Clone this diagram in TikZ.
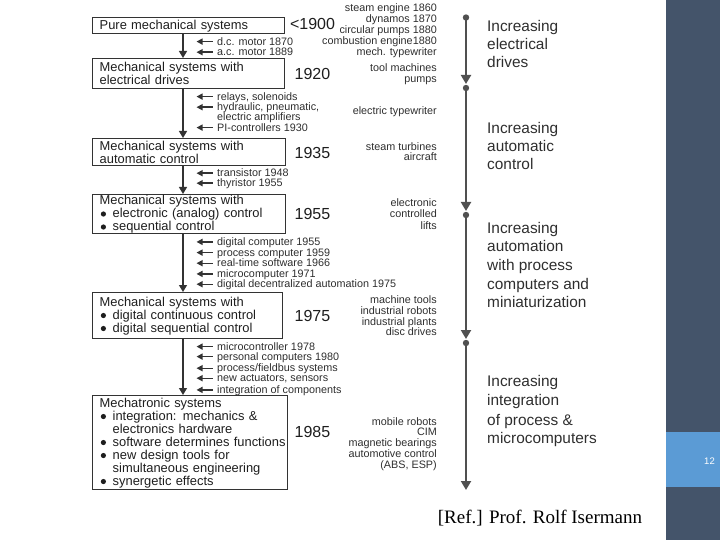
\documentclass[tikz,border=0pt]{standalone}
\usepackage{fontspec}
\setmainfont{Liberation Sans}
\newfontfamily\reffont{Liberation Serif}
\usetikzlibrary{arrows.meta}
\definecolor{ink}{HTML}{1E1E1E}
\definecolor{grayink}{HTML}{2E2E2E}
\definecolor{linec}{HTML}{333333}
\definecolor{tlc}{HTML}{505050}
\definecolor{panel}{HTML}{44546A}
\definecolor{pblue}{HTML}{5B9BD5}
\newcommand\bul{\makebox[13pt][l]{\hspace{1.1pt}\tikz[baseline=-3.5pt]\fill[ink] (0,0) circle (2.6pt);}}
\newcommand\ind{\hspace*{13pt}}
\begin{document}
\begin{tikzpicture}[x=1pt,y=-1pt,
  box/.style={draw=linec, line width=1.4pt, rectangle, anchor=north west,
    inner xsep=7.5pt, inner ysep=0pt, align=left, text=ink,
    font=\fontsize{12.9}{13}\selectfont},
  year/.style={anchor=center, inner sep=0pt, text=ink, font=\fontsize{16}{18}\selectfont},
  lt/.style={anchor=base west, inner sep=0pt, text=grayink, font=\fontsize{10.8}{11}\selectfont},
  rt/.style={anchor=base east, inner sep=0pt, text=grayink, font=\fontsize{10.8}{11}\selectfont},
  big/.style={anchor=base west, inner sep=0pt, text=grayink, font=\fontsize{15.4}{18}\selectfont},
  marr/.style={draw=linec, line width=1.4pt, -{Triangle[length=7pt,width=8pt]}},
  sarr/.style={draw=linec, line width=1.4pt, -{Triangle[length=6pt,width=6pt]}},
  tarr/.style={draw=tlc, line width=2pt, -{Triangle[length=9pt,width=10pt]}},
  tdot/.style={fill=tlc}
]
\useasboundingbox (0,0) rectangle (720,540);
% right panel
\fill[panel] (666,0) rectangle (720,540);
\fill[pblue] (666,432) rectangle (720,487);
\node[text=white, inner sep=0pt, font=\fontsize{9.5}{10}\selectfont] (pg) at (709.5,461.5) {12};

% boxes
\node[box, minimum width=192.5pt, minimum height=16pt, text width=177.5pt] (b1) at (91.5,17) {Pure mechanical systems};
\node[box, minimum width=192.5pt, minimum height=30pt, text width=177.5pt] (b2) at (91.5,58) {Mechanical systems with\\electrical drives};
\node[box, minimum width=193.5pt, minimum height=27pt, text width=178.5pt] (b3) at (91.5,138) {Mechanical systems with\\automatic control};
\node[box, minimum width=193.5pt, minimum height=39pt, text width=178.5pt] (b4) at (91.5,194) {Mechanical systems with\\\bul electronic (analog) control\\\bul sequential control};
\node[box, minimum width=190.5pt, minimum height=46pt, text width=175.5pt] (b5) at (91.5,292) {Mechanical systems with\\\bul digital continuous control\\\bul digital sequential control};
\node[box, minimum width=195.5pt, minimum height=94pt, text width=180.5pt] (b6) at (91.5,395) {Mechatronic systems\\\bul integration: mechanics \&\\\ind electronics hardware\\\mbox{\bul software determines functions}\\\bul new design tools for\\\ind simultaneous engineering\\\bul synergetic effects};

% main arrows
\coordinate (ax) at (183,0);
\draw[marr] (b1.south -| ax) -- (b2.north -| ax);
\draw[marr] (b2.south -| ax) -- (b3.north -| ax);
\draw[marr] (b3.south -| ax) -- (b4.north -| ax);
\draw[marr] (b4.south -| ax) -- (b5.north -| ax);
\draw[marr] (b5.south -| ax) -- (b6.north -| ax);

% years
\node[year] (y1) at (312.5,24) {<1900};
\node[year] (y2) at (312.5,74) {1920};
\node[year] (y3) at (312.5,152.5) {1935};
\node[year] (y4) at (312.5,214) {1955};
\node[year] (y5) at (312.5,316) {1975};
\node[year] (y6) at (312.5,432) {1985};

% side items (inputs)
\node[lt] (s1) at (217,45.2) {d.c. motor 1870};
\node[lt] (s2) at (217,55.8) {a.c. motor 1889};
\node[lt] (s3) at (217,100.2) {relays, solenoids};
\node[lt] (s4) at (217,110.8) {hydraulic, pneumatic,};
\node[lt] (s4b) at (217,120.8) {electric amplifiers};
\node[lt] (s5) at (217,131.2) {PI-controllers 1930};
\node[lt] (s6) at (217,176.8) {transistor 1948};
\node[lt] (s7) at (217,186.8) {thyristor 1955};
\node[lt] (s8) at (217,245.5) {digital computer 1955};
\node[lt] (s9) at (217,256.2) {process computer 1959};
\node[lt] (s10) at (217,266.8) {real-time software 1966};
\node[lt] (s11) at (217,277.5) {microcomputer 1971};
\node[lt] (s12) at (217,287.8) {digital decentralized automation 1975};
\node[lt] (s13) at (217,350.2) {microcontroller 1978};
\node[lt] (s14) at (217,360.2) {personal computers 1980};
\node[lt] (s15) at (217,371.8) {process/fieldbus systems};
\node[lt] (s16) at (217,381.8) {new actuators, sensors};
\node[lt] (s17) at (217,393.5) {integration of components};
\foreach \s in {s1,s2,s3,s4,s5,s6,s7,s8,s9,s10,s11,s12,s13,s14,s15,s16,s17}
  \draw[sarr] ([shift={(-4.5,-3.6)}]\s.base west) -- ++(-16,0);

% applications (right aligned)
\node[rt] (a1) at (437,11.8) {steam engine 1860};
\node[rt] (a2) at (437,22.7) {dynamos 1870};
\node[rt] (a3) at (437,33.6) {circular pumps 1880};
\node[rt] (a4) at (437,44.5) {combustion engine1880};
\node[rt] (a5) at (437,55.4) {mech. typewriter};
\node[rt] (a6) at (437,71.8) {tool machines};
\node[rt] (a7) at (437,82.8) {pumps};
\node[rt] (a8) at (437,114.5) {electric typewriter};
\node[rt] (a9) at (437,150.2) {steam turbines};
\node[rt] (a10) at (437,160.8) {aircraft};
\node[rt] (a11) at (437,206.2) {electronic};
\node[rt] (a12) at (437,217.8) {controlled};
\node[rt] (a13) at (437,229.2) {lifts};
\node[rt] (a14) at (437,303.5) {machine tools};
\node[rt] (a15) at (437,314.2) {industrial robots};
\node[rt] (a16) at (437,325.2) {industrial plants};
\node[rt] (a17) at (437,335.8) {disc drives};
\node[rt] (a18) at (437,425.8) {mobile robots};
\node[rt] (a19) at (437,435.8) {CIM};
\node[rt] (a20) at (437,446.8) {magnetic bearings};
\node[rt] (a21) at (437,457.5) {automotive control};
\node[rt] (a22) at (437,468.5) {(ABS, ESP)};

% timeline
\coordinate (t0) at (466,17.5);
\coordinate (t1) at (466,84);
\coordinate (t1s) at (466,88);
\coordinate (t2) at (466,211);
\coordinate (t2s) at (466,215);
\coordinate (t3) at (466,339);
\coordinate (t3s) at (466,343);
\coordinate (t4) at (466,490);
\draw[tarr] (t0) -- (t1);
\draw[tarr] (t1s) -- (t2);
\draw[tarr] (t2s) -- (t3);
\draw[tarr] (t3s) -- (t4);
\foreach \p in {t0,t1s,t2s,t3s} \fill[tdot] (\p) circle (3.2pt);

% phase labels
\node[big] (p1a) at (487,32) {Increasing};
\node[big] (p1b) at (487,50) {electrical};
\node[big] (p1c) at (487,68) {drives};
\node[big] (p2a) at (487,133.3) {Increasing};
\node[big] (p2b) at (487,151.7) {automatic};
\node[big] (p2c) at (487,170) {control};
\node[big] (p3a) at (487,233.3) {Increasing};
\node[big] (p3b) at (487,251.9) {automation};
\node[big] (p3c) at (487,270.5) {with process};
\node[big] (p3d) at (487,289.1) {computers and};
\node[big] (p3e) at (487,307.7) {miniaturization};
\node[big] (p4a) at (487,386.7) {Increasing};
\node[big] (p4b) at (487,405) {integration};
\node[big] (p4c) at (487,425) {of process \&};
\node[big] (p4d) at (487,443.3) {microcomputers};

% reference
\node[anchor=base, inner sep=0pt, text=black, font=\reffont\fontsize{19}{22}\selectfont] (ref) at (540,523) {[Ref.] Prof. Rolf Isermann};
\end{tikzpicture}
\end{document}
